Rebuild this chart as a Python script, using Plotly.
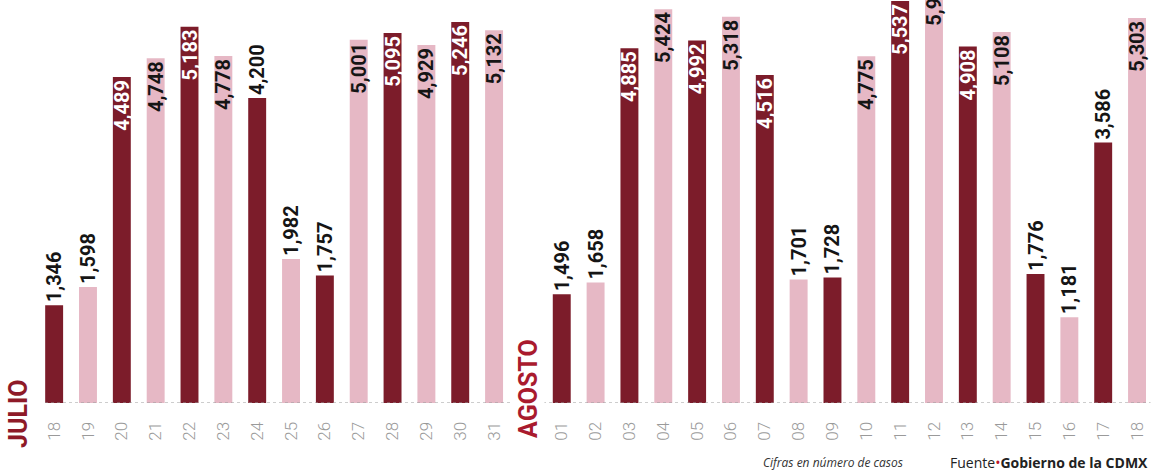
import plotly.graph_objects as go

# ---- data ----
july_days = ["18", "19", "20", "21", "22", "23", "24", "25", "26", "27", "28", "29", "30", "31"]
july_vals = [1346, 1598, 4489, 4748, 5183, 4778, 4200, 1982, 1757, 5001, 5095, 4929, 5246, 5132]
aug_days = ["01", "02", "03", "04", "05", "06", "07", "08", "09", "10", "11", "12", "13", "14", "15", "16", "17", "18"]
aug_vals = [1496, 1658, 4885, 5424, 4992, 5318, 4516, 1701, 1728, 4775, 5537, 5937, 4908, 5108, 1776, 1181, 3586, 5303]
month_labels = ["JULIO", "AGOSTO"]

DARK = "#7c1c2a"
PINK = "#e6b8c5"
INSIDE_MIN = 4400

# positions: July 0..13, empty slot for month label, August after
xs, ys, cols, txt, tpos, tcol, tickv, tickt = [], [], [], [], [], [], [], []
for month_i, (days, vals) in enumerate([(july_days, july_vals), (aug_days, aug_vals)]):
    start = 0 if month_i == 0 else len(july_days) + 1
    for j, (d, v) in enumerate(zip(days, vals)):
        x = start + j
        dark = (j % 2 == 0)
        inside = v > INSIDE_MIN
        xs.append(x)
        ys.append(v)
        cols.append(DARK if dark else PINK)
        txt.append(f"{v:,}")
        tpos.append("inside" if inside else "outside")
        tcol.append("white" if (inside and dark) else "#151515")
        tickv.append(x)
        tickt.append(d)

fig = go.Figure()
fig.add_trace(go.Bar(
    x=xs, y=ys, marker=dict(color=cols, line=dict(width=0)),
    text=txt, textposition=tpos, textangle=-90,
    insidetextanchor="end", constraintext="none",
    textfont=dict(family="Roboto, Arial, sans-serif", size=20, color=tcol, weight=700),
    cliponaxis=True, hoverinfo="skip",
))

W, H = 1157, 472
fig.update_layout(
    width=W, height=H, margin=dict(l=0, r=0, t=0, b=69),
    paper_bgcolor="white", plot_bgcolor="white",
    bargap=0.47, showlegend=False,
    xaxis=dict(range=[-1.6, 32.59], tickvals=tickv, ticktext=tickt, tickangle=-90,
               ticks="outside", ticklen=11, tickcolor="rgba(0,0,0,0)",
               tickfont=dict(family="Roboto, sans-serif", size=17, color="#9a9a9a", weight=300),
               showgrid=False, zeroline=False, showline=False),
    yaxis=dict(range=[0, 5550], visible=False, showgrid=False, zeroline=False),
)

# dotted baseline
fig.add_shape(type="line", xref="x", yref="y", x0=-0.27, x1=32.4, y0=0, y1=0,
              line=dict(color="#9a9a9a", width=1, dash="dot"), layer="above")

# month labels
fig.add_annotation(text=f"<b>{month_labels[0]}</b>", xref="paper", yref="paper",
                   x=19 / W, y=(403 - 414) / 403, textangle=-90, showarrow=False,
                   xanchor="center", yanchor="middle",
                   font=dict(family="Roboto, Arial, sans-serif", size=25, color="#8e1a28"))
fig.add_annotation(text=f"<b>{month_labels[1]}</b>", xref="x", yref="paper",
                   x=len(july_days), y=(403 - 388) / 403, textangle=-90, showarrow=False,
                   xanchor="center", yanchor="middle", bgcolor="white",
                   font=dict(family="Roboto, Arial, sans-serif", size=25, color="#a91b2e"))

# footer
fig.add_annotation(text="<i>Cifras en número de casos</i>", xref="paper", yref="paper",
                   x=905 / W, y=(403 - 462) / 403, xanchor="right", yanchor="middle",
                   showarrow=False,
                   font=dict(family="Open Sans, sans-serif", size=12, color="#333333"))
fig.add_annotation(text="Fuente<span style='color:#c0182b'>•</span><b>Gobierno de la CDMX</b>",
                   xref="paper", yref="paper",
                   x=1150 / W, y=(403 - 462) / 403, xanchor="right", yanchor="middle",
                   showarrow=False,
                   font=dict(family="Open Sans, sans-serif", size=14, color="#222222"))

fig.write_html("out.html", config={"displayModeBar": False},
               post_script="document.body.style.margin='0';document.body.style.padding='0';")
